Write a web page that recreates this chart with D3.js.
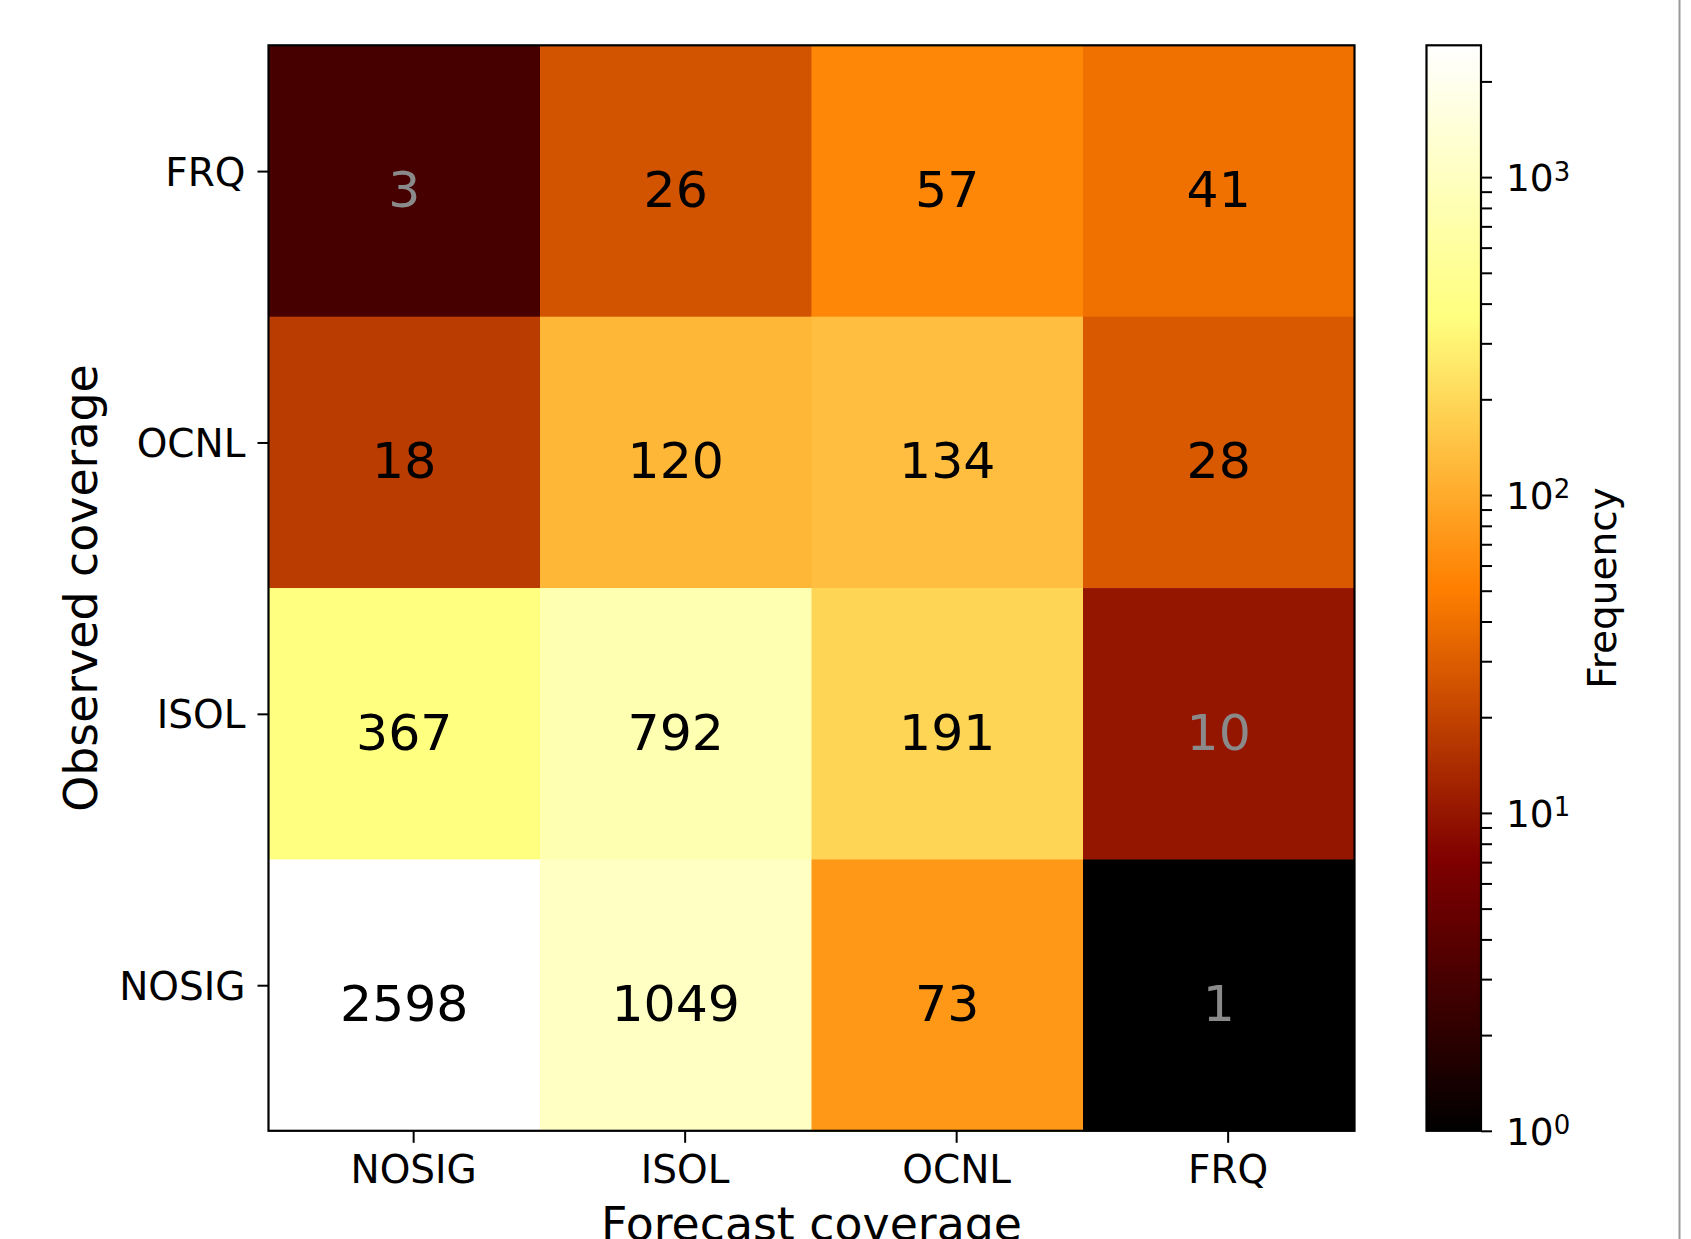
<!DOCTYPE html>
<html>
<head>
<meta charset="utf-8">
<script src="https://cdn.jsdelivr.net/npm/d3@7"></script>
<style>
  html, body { margin: 0; padding: 0; background: #fff; }
  svg { display: block; font-family: "DejaVu Sans", sans-serif; }
</style>
</head>
<body>
<div id="chart"></div>
<script>
// Data
const forecastCats = ["NOSIG", "ISOL", "OCNL", "FRQ"];
const observedCats = ["FRQ", "OCNL", "ISOL", "NOSIG"]; // top to bottom
const rowFRQ = [3, 26, 57, 41];
const rowOCNL = [18, 120, 134, 28];
const rowISOL = [367, 792, 191, 10];
const rowNOSIG = [2598, 1049, 73, 1];
const freqMin = 1;
const freqMax = 2598;

const rows = [rowFRQ, rowOCNL, rowISOL, rowNOSIG];
const cells = [];
rows.forEach((r, i) => {
  r.forEach((v, j) => {
    cells.push({ obs: observedCats[i], fc: forecastCats[j], value: v });
  });
});

// afmhot colormap
const afmhot = (t) => {
  const c = (v) => Math.round(255 * Math.max(0, Math.min(1, v)));
  return `rgb(${c(2 * t)},${c(2 * t - 0.5)},${c(2 * t - 1)})`;
};

// Dimensions
const dims = {
  width: 1691,
  height: 1239,
  left: 268.5,
  top: 45.3,
  right: 1354.5,
  bottom: 1130.8,
  cbLeft: 1426.5,
  cbRight: 1481,
  tickShift: 9.4, // ticks sit a bit off the cell centres in the original
};

const svg = d3
  .select("#chart")
  .append("svg")
  .attr("width", dims.width)
  .attr("height", dims.height);

// Scales
const xScale = d3.scaleBand().domain(forecastCats).range([dims.left, dims.right]);
const yScale = d3.scaleBand().domain(observedCats).range([dims.top, dims.bottom]);
const norm = d3.scaleLog().domain([freqMin, freqMax]).range([0, 1]).clamp(true);
const cbScale = d3.scaleLog().domain([freqMin, freqMax]).range([dims.bottom, dims.top]);

// Cells
svg
  .append("g")
  .selectAll("rect")
  .data(cells)
  .join("rect")
  .attr("x", (d) => xScale(d.fc))
  .attr("y", (d) => yScale(d.obs))
  .attr("width", xScale.bandwidth() + 0.5)
  .attr("height", yScale.bandwidth() + 0.5)
  .attr("fill", (d) => afmhot(norm(d.value)));

// Annotations
svg
  .append("g")
  .selectAll("text")
  .data(cells)
  .join("text")
  .attr("x", (d) => xScale(d.fc) + xScale.bandwidth() / 2)
  .attr("y", (d) => yScale(d.obs) + yScale.bandwidth() / 2 + 26)
  .attr("text-anchor", "middle")
  .style("font-size", "50.5px")
  .attr("fill", (d) => (norm(d.value) < 0.33 ? "#8a8a8a" : "#000"))
  .text((d) => d.value);

// Frame
svg
  .append("rect")
  .attr("x", dims.left)
  .attr("y", dims.top)
  .attr("width", dims.right - dims.left)
  .attr("height", dims.bottom - dims.top)
  .attr("fill", "none")
  .attr("stroke", "#000")
  .attr("stroke-width", 2.2);

// Axes
const xAxis = d3.axisBottom(xScale).tickSize(12).tickPadding(14);
const xAxisGroup = svg
  .append("g")
  .attr("transform", `translate(${dims.tickShift}, ${dims.bottom})`)
  .call(xAxis);
xAxisGroup.select(".domain").remove();
xAxisGroup.selectAll("line").attr("stroke-width", 2);
xAxisGroup
  .selectAll("text")
  .attr("dy", null)
  .attr("y", 52)
  .style("font-size", "39px")
  .style("font-family", "DejaVu Sans")
  .attr("fill", "#000");

const yAxis = d3.axisLeft(yScale).tickSize(11).tickPadding(12);
const yAxisGroup = svg
  .append("g")
  .attr("transform", `translate(${dims.left}, ${-dims.tickShift})`)
  .call(yAxis);
yAxisGroup.select(".domain").remove();
yAxisGroup.selectAll("line").attr("stroke-width", 2);
yAxisGroup
  .selectAll("text")
  .attr("dy", "0.36em")
  .style("font-size", "39px")
  .style("font-family", "DejaVu Sans")
  .attr("fill", "#000");

// Axis labels
svg
  .append("text")
  .attr("x", (dims.left + dims.right) / 2)
  .attr("y", 1239.5)
  .attr("text-anchor", "middle")
  .style("font-size", "45.8px")
  .text("Forecast coverage");

svg
  .append("text")
  .attr("transform", `translate(97, ${(dims.top + dims.bottom) / 2}) rotate(-90)`)
  .attr("text-anchor", "middle")
  .style("font-size", "45.8px")
  .text("Observed coverage");

// Colorbar
const grad = svg
  .append("defs")
  .append("linearGradient")
  .attr("id", "cbgrad")
  .attr("x1", 0)
  .attr("y1", 1)
  .attr("x2", 0)
  .attr("y2", 0);
grad
  .selectAll("stop")
  .data(d3.range(0, 1.0001, 1 / 128))
  .join("stop")
  .attr("offset", (t) => t)
  .attr("stop-color", (t) => afmhot(t));

svg
  .append("rect")
  .attr("x", dims.cbLeft)
  .attr("y", dims.top)
  .attr("width", dims.cbRight - dims.cbLeft)
  .attr("height", dims.bottom - dims.top)
  .attr("fill", "url(#cbgrad)")
  .attr("stroke", "#000")
  .attr("stroke-width", 2.2);

const isDecade = (v) => Math.abs(Math.log10(v) - Math.round(Math.log10(v))) < 1e-9;
const cbAxis = d3
  .axisRight(cbScale)
  .tickValues(cbScale.ticks())
  .tickSize(11)
  .tickPadding(14)
  .tickFormat((v) => (isDecade(v) ? "10" : ""));

const cbGroup = svg
  .append("g")
  .attr("transform", `translate(${dims.cbRight}, 0)`)
  .call(cbAxis);
cbGroup.select(".domain").remove();
cbGroup.selectAll("line").attr("stroke-width", 2);
cbGroup
  .selectAll("text")
  .attr("dy", "0.37em")
  .style("font-size", "37.5px")
  .style("font-family", "DejaVu Sans")
  .attr("fill", "#000")
  .each(function (v) {
    if (!isDecade(v)) return;
    d3.select(this)
      .append("tspan")
      .attr("dy", "-0.42em")
      .style("font-size", "26px")
      .text(Math.round(Math.log10(v)));
  });

svg
  .append("text")
  .attr("transform", `translate(1615.5, ${(dims.top + dims.bottom) / 2}) rotate(-90)`)
  .attr("text-anchor", "middle")
  .style("font-size", "39px")
  .text("Frequency");

// Right edge line
svg
  .append("line")
  .attr("x1", 1679.5)
  .attr("x2", 1679.5)
  .attr("y1", 0)
  .attr("y2", dims.height)
  .attr("stroke", "#9a9a9a")
  .attr("stroke-width", 2);
</script>
</body>
</html>
